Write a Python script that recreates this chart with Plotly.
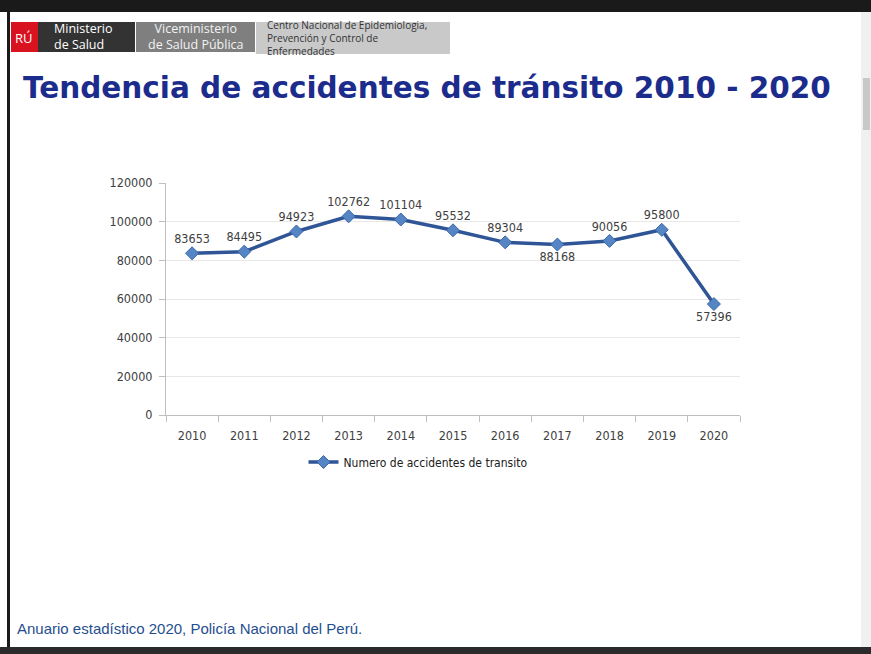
import plotly.graph_objects as go

years = ["2010", "2011", "2012", "2013", "2014", "2015", "2016", "2017", "2018", "2019", "2020"]
accidents = [83653, 84495, 94923, 102762, 101104, 95532, 89304, 88168, 90056, 95800, 57396]
label_pos = ["top center"] * 7 + ["bottom center", "top center", "top center", "bottom center"]
y_ticks = [0, 20000, 40000, 60000, 80000, 100000, 120000]

W, H = 871, 654


def px(x):
    return x / W


def py(y):
    return 1 - y / H


NARROW = "Liberation Sans Narrow, DejaVu Sans Condensed, Arial Narrow, Arial"

fig = go.Figure()
fig.add_trace(go.Scatter(
    x=years, y=accidents, mode="lines+markers+text",
    name="Numero de accidentes de transito",
    line=dict(color="#2F5597", width=3.5),
    marker=dict(symbol="diamond", size=10, color="#5585C5", line=dict(color="#3A67A8", width=1)),
    text=[str(v) for v in accidents], textposition=label_pos,
    textfont=dict(family=NARROW, size=12.5, color="#404040"),
    cliponaxis=False,
))

shapes = []
# page frame
shapes.append(dict(type="rect", xref="paper", yref="paper", x0=0, x1=1, y0=py(12), y1=1,
                   fillcolor="#1a1a1a", line=dict(width=0), layer="below"))
shapes.append(dict(type="rect", xref="paper", yref="paper", x0=px(7), x1=px(10), y0=0, y1=1,
                   fillcolor="#1a1a1a", line=dict(width=0), layer="below"))
shapes.append(dict(type="rect", xref="paper", yref="paper", x0=0, x1=1, y0=0, y1=py(647),
                   fillcolor="#2b2b2b", line=dict(width=0), layer="below"))
# scrollbar
shapes.append(dict(type="rect", xref="paper", yref="paper", x0=px(861), x1=1, y0=py(647), y1=py(12),
                   fillcolor="#F0F0F0", line=dict(width=0), layer="below"))
shapes.append(dict(type="rect", xref="paper", yref="paper", x0=px(863), x1=px(870), y0=py(130), y1=py(78),
                   fillcolor="#C8C8C8", line=dict(width=0), layer="below"))
# header boxes
shapes.append(dict(type="rect", xref="paper", yref="paper", x0=px(11), x1=px(38), y0=py(52), y1=py(22),
                   fillcolor="#D9121F", line=dict(width=0), layer="below"))
shapes.append(dict(type="rect", xref="paper", yref="paper", x0=px(38), x1=px(135), y0=py(52), y1=py(22),
                   fillcolor="#333333", line=dict(width=0), layer="below"))
shapes.append(dict(type="rect", xref="paper", yref="paper", x0=px(136), x1=px(255), y0=py(52), y1=py(22),
                   fillcolor="#7F7F7F", line=dict(width=0), layer="below"))
shapes.append(dict(type="rect", xref="paper", yref="paper", x0=px(256), x1=px(450), y0=py(54), y1=py(22),
                   fillcolor="#C9C9C9", line=dict(width=0), layer="below"))


def note(text, x, y, size, color, family="Open Sans, Arial", xanchor="center", align="center"):
    return dict(text=text, x=px(x), y=py(y), xref="paper", yref="paper", showarrow=False,
                xanchor=xanchor, yanchor="middle", align=align,
                font=dict(family=family, size=size, color=color))


annotations = [
    note("RÚ", 24, 38, 13, "white"),
    note("Ministerio<br>de Salud", 52, 37, 12.5, "white", xanchor="left", align="left"),
    note("Viceministerio<br>de Salud Pública", 196, 37, 12.5, "#F2F2F2"),
    note("Centro Nacional de Epidemiologia,<br>Prevención y Control de<br>Enfermedades", 265, 38, 10,
         "#333333", xanchor="left", align="left"),
    note("<b>Tendencia de accidentes de tránsito 2010 - 2020</b>", 427, 88, 29.5, "#1C2C8C",
         family="DejaVu Sans, Verdana, Arial"),
    note("Anuario estadístico 2020, Policía Nacional del Perú.", 15, 628, 15, "#1F4E8F",
         family="Liberation Sans, Arial", xanchor="left", align="left"),
]

fig.update_layout(
    width=W, height=H,
    margin=dict(l=0, r=0, t=0, b=0),
    paper_bgcolor="white", plot_bgcolor="white",
    shapes=shapes, annotations=annotations,
    showlegend=True,
    legend=dict(x=px(418), y=py(462), xanchor="center", yanchor="middle", orientation="h",
                font=dict(family=NARROW, size=12, color="#202020"),
                bgcolor="rgba(0,0,0,0)", itemwidth=30),
    xaxis=dict(domain=[px(166), px(740)], type="category", range=[-0.5, 10.5],
               tickson="boundaries", ticks="outside", ticklabelstandoff=9,
               ticklen=6, tickcolor="#BFBFBF", showline=True, linecolor="#BFBFBF", linewidth=1,
               showgrid=False, automargin=False,
               tickfont=dict(family=NARROW, size=12.5, color="#404040")),
    yaxis=dict(domain=[py(415), py(183)], range=[0, 120000], tickvals=y_ticks,
               ticktext=[str(v) for v in y_ticks], ticks="outside", ticklen=6, tickcolor="#BFBFBF",
               ticklabelstandoff=4,
               showline=True, linecolor="#BFBFBF", linewidth=1, gridcolor="#E8E8E8",
               zeroline=False, automargin=False,
               tickfont=dict(family=NARROW, size=12.5, color="#404040")),
)

fig.write_html("out.html")
